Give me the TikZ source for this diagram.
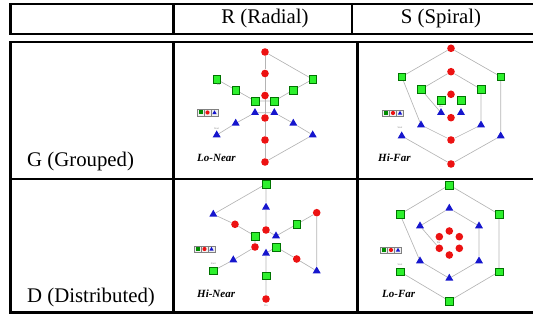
\documentclass[tikz,border=0pt]{standalone}
\usepackage{fontspec}
\setmainfont{Liberation Serif}
\usetikzlibrary{shapes.geometric,backgrounds}

\definecolor{edgegray}{RGB}{180,180,180}
\definecolor{mkgreen}{RGB}{45,240,45}
\definecolor{mkred}{RGB}{236,18,18}
\definecolor{mkblue}{RGB}{22,22,205}

\tikzset{
  gsq/.style={rectangle, minimum size=7.4pt, inner sep=0pt, fill=mkgreen, draw=green!45!black, line width=0.3pt},
  rdot/.style={circle, minimum size=7.6pt, inner sep=0pt, fill=mkred},
  btri/.style={regular polygon, regular polygon sides=3, minimum size=9.2pt, inner sep=0pt, fill=mkblue},
  link/.style={draw=edgegray, line width=0.65pt},
  tag/.style={font=\fontsize{2.6}{3}\selectfont, text=gray, inner sep=0pt},
  caption/.style={font=\fontsize{11}{13}\selectfont\bfseries\itshape, anchor=base west, inner sep=0pt},
  head/.style={font=\fontsize{20.8}{24}\selectfont, anchor=base, inner sep=0pt},
  rowlab/.style={font=\fontsize{20.8}{24}\selectfont, anchor=base west, inner sep=0pt},
  frame/.style={line width=2.4pt},
  legbox/.style={rectangle, draw=gray, fill=gray!12, minimum width=7pt, minimum height=6.5pt, inner sep=0pt, line width=0.4pt},
  lgsq/.style={rectangle, minimum size=4pt, inner sep=0pt, fill=green!55!black},
  lrdot/.style={circle, minimum size=4.2pt, inner sep=0pt, fill=mkred},
  lbtri/.style={regular polygon, regular polygon sides=3, minimum size=5pt, inner sep=0pt, fill=mkblue},
}

% small colour key: three boxed symbols
\newcommand{\keystrip}[2]{%
  \begin{scope}[shift={(#2)}]
    \node[legbox] (#1k1) at (-7,0) {};
    \node[legbox] (#1k2) at (0,0) {};
    \node[legbox] (#1k3) at (7,0) {};
    \node[lgsq]  (#1s1) at (-7,0) {};
    \node[lrdot] (#1s2) at (0,0) {};
    \node[lbtri] (#1s3) at (7,0.3) {};
  \end{scope}}

\begin{document}
\begin{tikzpicture}[x=1pt,y=-1pt]
\useasboundingbox (0,0) rectangle (533,320);

% ---------- table frame ----------
\draw[frame] (10.5,4) rectangle (560,34);
\draw[frame] (173.5,4) -- (173.5,34);
\draw[frame] (352,4) -- (352,34);
\draw[frame] (10.5,42) rectangle (560,312.5);
\draw[frame] (173.5,42) -- (173.5,312.5);
\draw[frame] (357.5,42) -- (357.5,312.5);
\draw[line width=1.6pt] (10.5,179) -- (560,179);

\node[head] (hR) at (265,24) {R (Radial)};
\node[head] (hS) at (441,24) {S (Spiral)};
\node[rowlab] (rG) at (27,167) {G (Grouped)};
\node[rowlab] (rD) at (27,303) {D (Distributed)};

% ---------- G / R : Lo-Near ----------
\node[rdot] (Ar1) at (265,52) {};
\node[rdot] (Ar2) at (265,73.5) {};
\node[rdot] (Ar3) at (265,95.5) {};
\node[rdot] (Ar4) at (265,118) {};
\node[rdot] (Ar5) at (265,140) {};
\node[rdot] (Ar6) at (265,162) {};
\node[gsq] (Ag1) at (216.7,79.3) {};
\node[gsq] (Ag2) at (235.7,90) {};
\node[gsq] (Ag3) at (255,101) {};
\node[gsq] (Ag4) at (274.3,101) {};
\node[gsq] (Ag5) at (293.3,90) {};
\node[gsq] (Ag6) at (312.7,79.3) {};
\node[btri] (Ab1) at (216.7,135) {};
\node[btri] (Ab2) at (235.7,123.3) {};
\node[btri] (Ab3) at (255,112.7) {};
\node[btri] (Ab4) at (274.3,112.7) {};
\node[btri] (Ab5) at (293.3,123.3) {};
\node[btri] (Ab6) at (312.7,135) {};
\begin{pgfonlayer}{background}
\draw[link] (Ar1) -- (Ar2) -- (Ar3) -- (Ar4) -- (Ar5) -- (Ar6);
\draw[link] (Ar1) -- (Ag6);
\draw[link] (Ag1) -- (Ag2) -- (Ag3) -- (Ag4) -- (Ag5) -- (Ag6);
\draw[link] (Ab1) -- (Ab2) -- (Ab3) -- (Ab4) -- (Ab5) -- (Ab6);
\draw[link] (Ab6) -- (Ar6);
\end{pgfonlayer}
\node[tag] (At1) at (218.5,85) {Fin};
\node[tag] (At2) at (216.7,128.5) {Start};
\keystrip{A}{207.5,112.5}
\node[caption] (Acap) at (197,161.5) {Lo-Near};

% ---------- G / S : Hi-Far ----------
\node[rdot] (Br1) at (451,48.3) {};
\node[rdot] (Br2) at (451,71.7) {};
\node[rdot] (Br3) at (451,94.3) {};
\node[rdot] (Br4) at (451,117.7) {};
\node[rdot] (Br5) at (451,140) {};
\node[rdot] (Br6) at (451,164) {};
\node[gsq] (Bgol) at (401.7,76.7) {};
\node[gsq] (Bgor) at (500.7,76.7) {};
\node[gsq] (Bgml) at (421,89.3) {};
\node[gsq] (Bgmr) at (481,89.3) {};
\node[gsq] (Bgil) at (441,100.3) {};
\node[gsq] (Bgir) at (461,100.3) {};
\node[btri] (Bbil) at (441,112.7) {};
\node[btri] (Bbir) at (461,112.7) {};
\node[btri] (Bbml) at (421,125) {};
\node[btri] (Bbmr) at (481,125) {};
\node[btri] (Bbol) at (401.7,136) {};
\node[btri] (Bbor) at (500.7,136) {};
\begin{pgfonlayer}{background}
\draw[link] (Bgol) -- (Br1) -- (Bgor) -- (Bbor) -- (Br6) -- (Bbol);
\draw[link] (Bgol) -- (Bbml) -- (Br5) -- (Bbmr) -- (Bgmr) -- (Br2) -- (Bgml) -- (Bbil);
\end{pgfonlayer}
\node[tag] (Bt1) at (400,128) {Start};
\node[tag] (Bt2) at (441,106.5) {Fin};
\keystrip{B}{393,113}
\node[caption] (Bcap) at (378,162) {Hi-Far};

% ---------- D / R : Hi-Near ----------
\node[gsq] (Cgup) at (266,184) {};
\node[gsq] (Cgul) at (255,236) {};
\node[gsq] (Cglr) at (276,247) {};
\node[gsq] (Cgll) at (213.3,270.7) {};
\node[gsq] (Cgur) at (296.7,224.3) {};
\node[gsq] (Cgdn) at (266,275.7) {};
\node[rdot] (Crul) at (235,224.3) {};
\node[rdot] (Crup) at (266,230) {};
\node[rdot] (Crll) at (255,247) {};
\node[rdot] (Crur) at (316.7,212.7) {};
\node[rdot] (Crlr) at (296.7,259) {};
\node[rdot] (Crdn) at (266,299) {};
\node[btri] (Cbup) at (266,207.3) {};
\node[btri] (Cbul) at (213.3,214.3) {};
\node[btri] (Cbur) at (276,236) {};
\node[btri] (Cbdn) at (266,253.3) {};
\node[btri] (Cbll) at (233.3,260) {};
\node[btri] (Cblr) at (316.7,271) {};
\begin{pgfonlayer}{background}
\draw[link] (Cgll) -- (Cbll) -- (Crll) -- (Cgul) -- (Crul) -- (Cbul) -- (Cgup) -- (Cbup) -- (Crup) -- (Cbur) -- (Cgur) -- (Crur) -- (Cblr) -- (Crlr) -- (Cglr) -- (Cbdn) -- (Cgdn) -- (Crdn);
\end{pgfonlayer}
\node[tag] (Ct1) at (213.3,264) {Start};
\node[tag] (Ct2) at (266,306) {Fin};
\keystrip{C}{204.5,249}
\node[caption] (Ccap) at (197,298) {Hi-Near};

% ---------- D / S : Lo-Far ----------
\node[gsq] (Dgup) at (449.3,185) {};
\node[gsq] (Dgul) at (400,214.3) {};
\node[gsq] (Dgur) at (499,214.3) {};
\node[gsq] (Dgll) at (400,271.7) {};
\node[gsq] (Dglr) at (499,271.7) {};
\node[gsq] (Dgdn) at (449.3,301) {};
\node[btri] (Dbup) at (449.3,208.3) {};
\node[btri] (Dbul) at (420,226) {};
\node[btri] (Dbur) at (479,226) {};
\node[btri] (Dbll) at (420,261) {};
\node[btri] (Dblr) at (479,261) {};
\node[btri] (Dbdn) at (449.3,278.3) {};
\node[rdot] (Drup) at (449.3,231) {};
\node[rdot] (Drul) at (439.3,236.7) {};
\node[rdot] (Drur) at (459.3,236.7) {};
\node[rdot] (Drll) at (439.3,248.3) {};
\node[rdot] (Drlr) at (459.3,248.3) {};
\node[rdot] (Drdn) at (449.3,255) {};
\begin{pgfonlayer}{background}
\draw[link] (Dgll) -- (Dgdn) -- (Dglr) -- (Dgur) -- (Dgup) -- (Dgul) -- (Dbll) -- (Dbdn) -- (Dblr) -- (Dbur) -- (Dbup) -- (Dbul) -- (Drll);
\end{pgfonlayer}
\node[tag] (Dt1) at (400,265) {Start};
\node[tag] (Dt2) at (438.5,243) {Fin};
\keystrip{D}{391,250}
\node[caption] (Dcap) at (382,298) {Lo-Far};
\end{tikzpicture}
\end{document}
